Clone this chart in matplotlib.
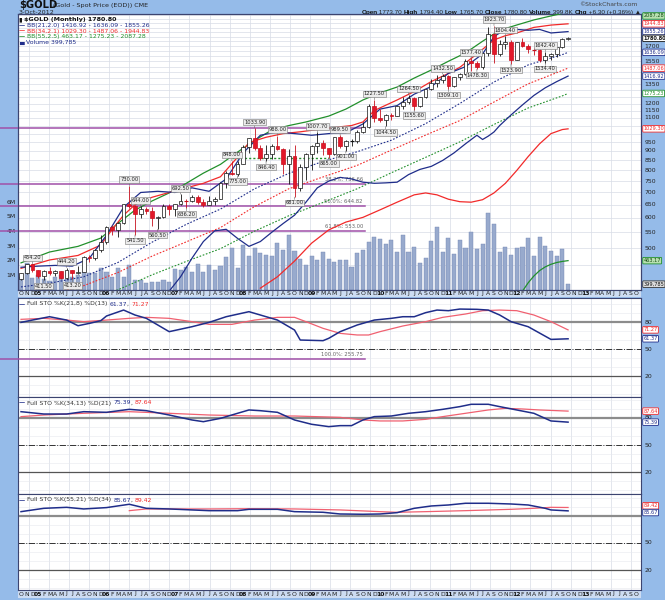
import numpy as np
import matplotlib.pyplot as plt
import matplotlib.transforms as mtransforms
from matplotlib.patches import Rectangle

# ---------------- $GOLD monthly, Oct 2004 .. Oct 2012 ----------------
opens = [415.5, 428.5, 452.5, 437.5, 422.2, 435.7, 428.8, 435.0, 417.0, 437.0,
         429.0, 433.3, 473.0, 470.0, 495.0, 517.0, 568.8, 556.0, 582.0, 654.0,
         643.0, 613.5, 633.0, 624.0, 598.0, 604.0, 646.0, 632.0, 651.0, 665.0,
         663.0, 680.0, 659.0, 650.5, 665.5, 673.0, 743.0, 789.0, 783.0, 834.0,
         923.0, 972.0, 916.0, 863.0, 886.0, 928.0, 913.0, 833.0, 871.0, 718.0,
         815.0, 884.0, 928.0, 942.0, 916.0, 883.0, 979.0, 926.0, 955.0, 956.0,
         1009.0, 1040.0, 1182.0, 1096.0, 1083.0, 1118.0, 1113.0, 1180.0, 1213.0, 1244.0,
         1181.0, 1248.0, 1307.0, 1357.0, 1386.0, 1421.0, 1333.0, 1410.0, 1439.0, 1556.0,
         1536.0, 1500.0, 1628.0, 1826.0, 1620.0, 1724.0, 1746.0, 1566.0, 1740.0, 1697.0,
         1669.0, 1664.0, 1560.0, 1604.0, 1615.0, 1687.0, 1773.7]
highs = [429.0, 453.0, 454.2, 438.0, 438.5, 445.6, 438.0, 435.5, 444.2, 438.2,
         448.6, 475.7, 479.0, 498.0, 541.0, 572.5, 575.5, 585.7, 654.5, 730.0,
         647.0, 644.0, 642.0, 640.0, 607.0, 651.0, 653.0, 652.0, 692.5, 671.0,
         690.0, 690.0, 672.0, 684.0, 682.0, 747.0, 795.0, 848.0, 845.0, 934.0,
         976.0, 1033.9, 934.0, 932.0, 940.0, 988.0, 917.0, 913.0, 933.0, 830.0,
         889.0, 931.0, 1007.7, 963.0, 917.0, 981.0, 989.5, 962.0, 966.0, 1024.0,
         1072.0, 1195.0, 1227.5, 1162.0, 1128.0, 1135.0, 1180.5, 1249.0, 1264.5, 1245.0,
         1250.0, 1310.0, 1388.0, 1424.0, 1432.5, 1424.0, 1411.0, 1447.0, 1569.0, 1577.4,
         1553.0, 1632.0, 1911.0, 1923.7, 1763.0, 1804.4, 1763.0, 1745.0, 1790.0, 1720.0,
         1676.0, 1666.0, 1642.4, 1628.0, 1693.0, 1790.0, 1794.4]
lows = [411.7, 427.8, 431.9, 416.0, 411.5, 424.5, 421.6, 414.5, 413.5, 413.2,
        428.3, 433.0, 460.0, 465.0, 489.0, 513.0, 540.0, 536.0, 578.0, 636.0,
        541.5, 599.0, 614.0, 573.0, 560.5, 600.0, 609.0, 605.5, 648.0, 636.2,
        660.0, 653.0, 640.0, 648.0, 647.0, 672.0, 721.0, 780.0, 775.0, 830.0,
        888.0, 905.0, 853.0, 846.4, 857.0, 907.0, 784.0, 735.0, 681.0, 705.0,
        753.0, 802.0, 890.0, 880.0, 865.0, 877.0, 917.0, 901.0, 930.0, 944.0,
        1001.0, 1033.0, 1075.0, 1074.0, 1044.5, 1088.0, 1110.0, 1163.0, 1195.0, 1155.6,
        1176.0, 1242.0, 1300.0, 1330.0, 1360.0, 1309.1, 1330.0, 1380.0, 1423.0, 1462.0,
        1478.3, 1481.0, 1603.0, 1535.0, 1600.0, 1672.0, 1523.9, 1563.0, 1687.0, 1627.0,
        1614.0, 1540.0, 1534.4, 1566.0, 1588.0, 1680.0, 1765.7]
closes = [428.5, 452.5, 437.5, 422.2, 435.7, 428.8, 435.0, 417.0, 437.0, 429.0,
          433.3, 473.0, 470.0, 495.0, 517.0, 568.8, 556.0, 582.0, 654.0, 643.0,
          613.5, 633.0, 624.0, 598.0, 604.0, 646.0, 632.0, 651.0, 665.0, 663.0,
          680.0, 659.0, 650.5, 665.5, 673.0, 743.0, 789.0, 783.0, 834.0, 923.0,
          972.0, 916.0, 863.0, 886.0, 928.0, 913.0, 833.0, 871.0, 718.0, 815.0,
          884.0, 928.0, 942.0, 916.0, 883.0, 979.0, 926.0, 955.0, 956.0, 1009.0,
          1040.0, 1182.0, 1096.0, 1083.0, 1118.0, 1113.0, 1180.0, 1213.0, 1244.0, 1181.0,
          1248.0, 1307.0, 1357.0, 1386.0, 1421.0, 1333.0, 1410.0, 1439.0, 1556.0, 1536.0,
          1500.0, 1628.0, 1826.0, 1620.0, 1724.0, 1746.0, 1566.0, 1740.0, 1697.0, 1669.0,
          1664.0, 1560.0, 1604.0, 1615.0, 1687.0, 1776.0, 1780.8]
# volume in millions
volume = [0.9, 1.85, 0.8, 1.0, 0.75, 0.6, 0.9, 1.0, 0.75, 0.9,
          1.0, 1.2, 1.15, 1.15, 1.5, 1.2, 0.9, 1.5, 0.9, 1.7,
          0.7, 0.7, 0.5, 0.55, 0.55, 0.7, 0.55, 1.45, 1.4, 1.6,
          1.25, 1.8, 1.25, 1.7, 1.4, 1.65, 2.25, 2.9, 1.5, 3.1,
          2.3, 2.9, 2.5, 2.4, 2.3, 3.2, 2.75, 3.8, 2.7, 2.1,
          1.7, 2.3, 2.05, 2.6, 2.1, 1.94, 2.05, 2.05, 1.6, 2.5,
          2.74, 3.3, 3.65, 3.47, 3.13, 3.42, 2.62, 3.75, 2.62, 2.92,
          1.83, 2.17, 3.38, 4.29, 2.58, 3.58, 2.47, 3.42, 2.85, 3.99,
          2.81, 3.15, 5.25, 4.52, 2.58, 2.97, 2.42, 2.85, 2.92, 3.54,
          2.35, 3.65, 3.01, 2.69, 2.33, 2.83, 0.40]

# Bollinger bands (month index, value)
bb21_up_m = [0, 3, 6, 9, 12, 15, 18, 21, 24, 27, 30, 33, 36, 39, 42, 45, 48, 51, 54, 57,
             60, 63, 66, 69, 72, 75, 78, 81, 83, 85, 87, 89, 91, 93, 96]
bb21_up = [445, 448, 450, 448, 470, 540, 640, 700, 705, 700, 720, 705, 760, 890, 990, 1010,
           1000, 990, 1000, 1005, 1060, 1160, 1185, 1270, 1330, 1440, 1500, 1620, 1800, 1880,
           1880, 1870, 1880, 1840, 1855.26]
bb21_mid_m = [0, 5, 11, 17, 23, 29, 35, 41, 47, 53, 59, 65, 71, 77, 83, 89, 95, 96]
bb21_mid = [395, 404, 420, 458, 518, 577, 633, 716, 786, 845, 896, 961, 1062, 1200, 1367,
            1516, 1614, 1636.09]
bb21_lo_m = [26, 28, 30, 32, 34, 36, 38, 40, 42, 44, 46, 48, 50, 52, 54, 56, 58, 60, 62, 64,
             66, 68, 70, 72, 74, 76, 78, 80, 81, 82, 83, 84, 86, 88, 90, 92, 94, 96]
bb21_lo = [385, 420, 470, 520, 555, 560, 530, 505, 520, 550, 580, 610, 660, 720, 750, 767,
           760, 745, 740, 742, 745, 780, 805, 820, 850, 890, 940, 990, 965, 985, 1010, 1050,
           1120, 1190, 1260, 1320, 1370, 1416.92]
bb34_up_m = [0, 5, 10, 14, 16, 18, 20, 23, 26, 29, 32, 35, 38, 40, 43, 46, 49, 54, 58, 60,
             62, 66, 69, 72, 75, 77, 80, 83, 85, 87, 90, 93, 96]
bb34_up = [442, 465, 478, 509, 560, 610, 650, 680, 700, 720, 740, 770, 867, 947, 978, 1000,
           1011, 1034, 1050, 1073, 1150, 1226, 1290, 1371, 1440, 1494, 1620, 1764, 1810, 1840,
           1903, 1930, 1944.83]
bb34_mid_m = [0, 5, 11, 17, 23, 29, 35, 41, 47, 53, 59, 65, 71, 77, 83, 89, 95, 96]
bb34_mid = [372, 378, 398, 431, 476, 519, 566, 643, 716, 769, 825, 905, 991, 1082, 1211,
            1352, 1466, 1487.06]
bb34_lo_m = [42, 45, 48, 51, 54, 57, 60, 63, 66, 69, 71, 73, 75, 77, 79, 81, 83, 85, 87, 89,
             91, 93, 95, 96]
bb34_lo = [392, 420, 462, 515, 558, 585, 602, 630, 660, 690, 698, 690, 672, 662, 660, 670,
           698, 740, 800, 870, 940, 1000, 1025, 1029.30]
bb55_up_m = [0, 5, 10, 14, 17, 20, 23, 26, 29, 32, 35, 38, 41, 44, 47, 50, 54, 57, 60, 63,
             66, 69, 72, 75, 78, 81, 84, 87, 90, 93, 96]
bb55_up = [457, 488, 505, 531, 580, 629, 665, 698, 740, 787, 830, 894, 960, 1022, 1050, 1073,
           1112, 1160, 1226, 1280, 1326, 1400, 1470, 1550, 1630, 1750, 1870, 1931, 1991, 2040,
           2087.28]
bb55_mid_m = [5, 11, 17, 23, 29, 35, 41, 47, 53, 59, 65, 71, 77, 83, 89, 95, 96]
bb55_mid = [341, 360, 388, 425, 461, 498, 554, 608, 659, 716, 789, 866, 951, 1057, 1168, 1257,
            1275.23]
bb55_lo_m = [88, 89, 90, 91, 92, 93, 94, 95, 96]
bb55_lo = [385, 405, 422, 436, 446, 453, 458, 461, 463.17]

# Fibonacci retracement levels and a support line
fib_pct = ['0.0%', '38.2%', '50.0%', '61.8%', '100.0%']
fib_val = [1033.90, 736.66, 644.82, 553.00, 255.75]
support_val = 865.0

# annotated highs ('h') and lows ('l')
notes = [(2, 'h'), (4, 'l'), (8, 'h'), (9, 'l'), (19, 'h'), (20, 'l'), (21, 'h'), (24, 'l'),
         (28, 'h'), (29, 'l'), (37, 'h'), (38, 'l'), (41, 'h'), (43, 'l'), (45, 'h'), (48, 'l'),
         (52, 'h'), (54, 'l'), (56, 'h'), (57, 'l'), (62, 'h'), (64, 'l'), (68, 'h'), (69, 'l'),
         (74, 'h'), (75, 'l'), (79, 'h'), (80, 'l'), (83, 'h'), (85, 'h'), (86, 'l'), (92, 'h'),
         (92, 'l')]

# Full stochastics panels (month index, value)
k1_m = [0, 2, 5, 8, 10, 12, 14, 15, 18, 20, 22, 26, 30, 33, 36, 40, 42, 45, 48, 49, 53, 54,
        56, 59, 62, 65, 67, 69, 71, 73, 75, 77, 80, 82, 84, 86, 89, 93, 96]
k1 = [79.6, 82.2, 85.9, 82.2, 75.9, 78.5, 81.5, 86.7, 93.3, 87.8, 84.1, 69.3, 74.8, 79.6,
      85.9, 91.5, 87.8, 82.2, 71.1, 60.0, 59.3, 61.9, 69.3, 76.7, 82.2, 84.1, 85.9, 85.9,
      90.4, 93.3, 92.6, 94.4, 94.1, 93.3, 87.8, 80.4, 74.8, 60.7, 61.37]
d1_m = [0, 4, 8, 11, 15, 19, 22, 26, 30, 33, 37, 41, 45, 48, 50, 53, 56, 59, 61, 63, 67, 71,
        74, 78, 81, 84, 87, 90, 93, 96]
d1 = [83.0, 84.1, 82.2, 80.4, 82.2, 84.1, 85.2, 84.1, 80.4, 77.4, 77.4, 82.2, 85.2, 85.2,
      80.4, 73.0, 67.4, 65.6, 65.6, 69.3, 75.6, 80.4, 85.2, 88.9, 92.6, 93.3, 92.6, 87.8,
      80.4, 71.27]
k2_m = [0, 4, 8, 11, 15, 19, 22, 26, 30, 32, 35, 38, 40, 42, 45, 48, 51, 54, 56, 58, 60, 62,
        65, 68, 71, 74, 77, 79, 82, 84, 87, 90, 93, 96]
k2 = [87.0, 84.4, 84.4, 87.0, 86.3, 89.6, 88.1, 83.3, 77.8, 75.9, 79.6, 85.2, 88.9, 88.1,
      86.3, 77.8, 73.0, 70.4, 71.5, 71.5, 77.8, 81.5, 82.2, 85.2, 87.0, 89.6, 92.6, 95.2,
      95.2, 92.6, 88.9, 85.2, 76.7, 75.39]
d2_m = [0, 4, 11, 19, 26, 33, 41, 48, 56, 60, 63, 67, 71, 74, 78, 82, 85, 88, 91, 96]
d2 = [81.5, 83.3, 85.2, 87.0, 85.2, 83.3, 82.2, 82.2, 80.7, 77.8, 76.7, 76.7, 78.5, 81.5,
      85.2, 88.9, 90.7, 90.0, 88.9, 87.64]
k3_m = [0, 4, 8, 11, 15, 19, 22, 26, 30, 33, 38, 40, 45, 48, 53, 56, 60, 63, 66, 69, 72, 75,
        78, 82, 86, 89, 92, 93, 96]
k3 = [84.8, 88.5, 89.6, 87.8, 89.3, 93.0, 88.5, 87.8, 86.7, 85.9, 85.9, 87.4, 87.4, 84.8,
      84.1, 82.2, 81.9, 82.2, 83.7, 88.5, 91.1, 92.2, 94.1, 94.1, 93.3, 92.2, 88.5, 86.7, 85.67]
d3_m = [19, 22, 26, 33, 40, 48, 56, 63, 66, 71, 78, 86, 90, 93, 96]
d3 = [85.9, 87.8, 87.8, 87.8, 88.1, 87.8, 86.7, 84.8, 84.1, 84.8, 85.9, 87.4, 88.5, 89.6, 89.42]

# ---------------- styling ----------------
W, H = 665, 600
BG = '#95bbe9'
STRIP = '#cddcf2'
GRID = '#d8dce6'
FRAME = '#3c4470'
NAVY = '#1f2d8a'
RED = '#f22a2a'
PINK = '#f06070'
GREEN = '#22902c'
VOLC = '#98aacd'
VOLE = '#7487b4'
XMIN, XMAX = -0.53, 108.8
FS = 4.4
TAGFS = 3.6

plt.rcParams['font.family'] = ['DejaVu Sans']

fig = plt.figure(figsize=(W / 100, H / 100), dpi=100, facecolor=BG)


def rect(x0, y0, x1, y1):
    return [x0 / W, 1 - y1 / H, (x1 - x0) / W, (y1 - y0) / H]


def clean(a):
    a.tick_params(which='both', left=False, right=False, bottom=False, top=False,
                  labelleft=False, labelbottom=False)
    for s in a.spines.values():
        s.set_color(FRAME)
        s.set_linewidth(0.8)


vgrid = np.arange(1.4, XMAX, 3.52)
n = len(closes)
idx = np.arange(n)
renderer = fig.canvas.get_renderer()


def seq_text(x_px, y_px, parts, size=FS, right=False, family=None):
    texts, widths = [], []
    for s, col, wt in parts:
        kw = {'family': family} if family else {}
        t = fig.text(0, 1 - y_px / H, s, color=col, fontsize=size, weight=wt,
                     ha='left', va='center', **kw)
        texts.append(t)
        widths.append(t.get_window_extent(renderer).width)
    x = x_px - sum(widths) if right else x_px
    for t, w in zip(texts, widths):
        t.set_x(x / W)
        x += w


def tag(a, val, text, ec, fc='white', tc=None, wt='normal'):
    tr = mtransforms.blended_transform_factory(a.transAxes, a.transData)
    a.text(1.004, val, text, transform=tr, fontsize=TAGFS, color=tc or ec, weight=wt,
           ha='left', va='center', clip_on=False, zorder=30,
           bbox=dict(boxstyle='round,pad=0.15', fc=fc, ec=ec, lw=0.6))


# ---------------- main price panel ----------------
axv = fig.add_axes(rect(18, 14, 641, 290))
axv.set_facecolor('white')
axv.set_xlim(XMIN, XMAX)
axv.set_ylim(0, 18.9)
clean(axv)

ax = fig.add_axes(rect(18, 14, 641, 290))
ax.set_zorder(5)
ax.patch.set_alpha(0)
ax.set_yscale('log')
ax.set_xlim(XMIN, XMAX)
ax.set_ylim(387.7, 2064)
clean(ax)

ptr = mtransforms.blended_transform_factory(axv.transAxes, ax.transData)
for p in np.arange(450, 2051, 50):
    axv.plot([0, 1], [p, p], transform=ptr, color=GRID, lw=0.5, zorder=0)
for g in vgrid:
    axv.axvline(g, color=GRID, lw=0.5, zorder=0)

axv.bar(idx, volume, width=0.72, color=VOLC, edgecolor=VOLE, lw=0.3, zorder=2)
vtr = mtransforms.blended_transform_factory(axv.transAxes, axv.transData)
for k in range(1, 7):
    axv.text(-0.004, k, f'{k}M', transform=vtr, ha='right', va='center', fontsize=FS,
             color='#222', clip_on=False)

# Fibonacci lines (extend into the left margin, 100% runs over the first panel)
for pct, lv in zip(fib_pct, fib_val):
    ax.plot([XMIN - 3.3, 60.3], [lv, lv], color='#a050a8', lw=1.1, clip_on=False, zorder=2)
    if pct != '0.0%':
        ax.text(60.0, lv * 1.012, f'{pct}: {lv:.2f}', ha='right', va='bottom', fontsize=3.8,
                color='#666', clip_on=False, zorder=2)
ax.plot([37, 54], [support_val, support_val], color=GREEN, lw=1.0, ls=(0, (1.5, 1.5)), zorder=3)

# Bollinger bands
ax.plot(bb55_up_m, bb55_up, color=GREEN, lw=0.9, zorder=3)
ax.plot(bb55_mid_m, bb55_mid, color=GREEN, lw=0.8, ls=(0, (1.5, 1.5)), zorder=3)
ax.plot(bb55_lo_m, bb55_lo, color=GREEN, lw=0.9, zorder=3)
ax.plot(bb34_up_m, bb34_up, color=RED, lw=0.9, zorder=3)
ax.plot(bb34_mid_m, bb34_mid, color=RED, lw=0.8, ls=(0, (1.5, 1.5)), zorder=3)
ax.plot(bb34_lo_m, bb34_lo, color=RED, lw=0.9, zorder=3)
ax.plot(bb21_up_m, bb21_up, color=NAVY, lw=0.9, zorder=3)
ax.plot(bb21_mid_m, bb21_mid, color=NAVY, lw=0.8, ls=(0, (1.5, 1.5)), zorder=3)
ax.plot(bb21_lo_m, bb21_lo, color=NAVY, lw=0.9, zorder=3)

# candlesticks
for i in range(n):
    o, h, l, c = opens[i], highs[i], lows[i], closes[i]
    up = c >= o
    col = '#111111' if up else '#c8101e'
    ax.vlines(i, l, h, color=col, lw=0.6, zorder=5)
    b0, b1 = min(o, c), max(o, c)
    if b1 / b0 < 1.004:
        ax.hlines(c, i - 0.35, i + 0.35, color=col, lw=0.8, zorder=6)
    else:
        ax.add_patch(Rectangle((i - 0.33, b0), 0.66, b1 - b0, facecolor='white' if up else '#e2182a',
                               edgecolor=col, lw=0.5, zorder=6))

# high / low annotations
for m, side in notes:
    val = highs[m] if side == 'h' else lows[m]
    off = 2.5 if side == 'h' else -2.5
    ax.annotate(f'{val:.2f}', xy=(m, val), xytext=(0, off), textcoords='offset points',
                ha='center', va='bottom' if side == 'h' else 'top', fontsize=3.7, color='#222',
                bbox=dict(boxstyle='square,pad=0.15', fc='#ececec', ec='#777', lw=0.4),
                arrowprops=dict(arrowstyle='-', color='#666', lw=0.4, shrinkA=0, shrinkB=0),
                zorder=8, annotation_clip=False)

# price axis tags (value, text, edge, face, text colour, weight)
price_tags = [(2040, '2087.28', GREEN, '#b8e0b0', '#124a12', 'normal'),
              (1944.83, '1944.83', RED, 'white', None, 'normal'),
              (1855.26, '1855.26', NAVY, 'white', None, 'normal'),
              (1780.80, '1780.80', '#111111', 'white', None, 'bold'),
              (1636.09, '1636.09', NAVY, 'white', None, 'normal'),
              (1487.06, '1487.06', RED, 'white', None, 'normal'),
              (1416.92, '1416.92', NAVY, 'white', None, 'normal'),
              (1275.23, '1275.23', GREEN, 'white', None, 'normal'),
              (1029.30, '1029.30', RED, 'white', None, 'normal'),
              (463.17, '463.17', GREEN, '#b8e0b0', '#124a12', 'normal')]
tag_px = [ax.transData.transform((0, t[0]))[1] for t in price_tags]

# price axis labels, hidden where a tag covers them
ytr = mtransforms.blended_transform_factory(ax.transAxes, ax.transData)
for p in range(450, 1801, 50):
    py = ax.transData.transform((0, p))[1]
    if min(abs(py - q) for q in tag_px) < 5.5:
        continue
    ax.text(1.006, p, str(p), transform=ytr, ha='left', va='center', fontsize=FS,
            color='#222', clip_on=False, zorder=20)
for val, text, ec, fc, tc, wt in price_tags:
    tag(ax, val, text, ec, fc=fc, tc=tc, wt=wt)
tag(axv, 0.40, '399,785', '#333333', fc='#dddddd', tc='#111111')

# main legend
seq_text(19, 19.5, [('\u25AE ', '#111', 'normal'), ('$GOLD (Monthly) 1780.80', '#111', 'bold')], 4.6)
seq_text(19, 25.3, [('\u2014 ', NAVY, 'bold'), ('BB(21,2.0) 1416.92 - 1636.09 - 1855.26', NAVY, 'normal')])
seq_text(19, 31.0, [('\u2014 ', RED, 'bold'), ('BB(34,2.1) 1029.30 - 1487.06 - 1944.83', RED, 'normal')])
seq_text(19, 36.7, [('\u2014 ', GREEN, 'bold'), ('BB(55,2.5) 463.17 - 1275.23 - 2087.28', GREEN, 'normal')])
seq_text(19, 42.4, [('\u2584 ', NAVY, 'normal'), ('Volume 399,785', NAVY, 'normal')])

# header
seq_text(19, 5, [('$GOLD', '#111', 'bold')], 7.2)
fig.text(53 / W, 1 - 5.5 / H, '(Gold - Spot Price (EOD)) CME', fontsize=4.6, color='#222', va='center')
fig.text(19 / W, 1 - 12 / H, '3-Oct-2012', fontsize=4.6, color='#222', va='center')
fig.text(638 / W, 1 - 5 / H, '\u00a9StockCharts.com', fontsize=4.4, color='#444', va='center', ha='right')
seq_text(641, 12.3, [('Open', '#111', 'bold'), (' 1773.70 ', '#222', 'normal'),
                     ('High', '#111', 'bold'), (' 1794.40 ', '#222', 'normal'),
                     ('Low', '#111', 'bold'), (' 1765.70 ', '#222', 'normal'),
                     ('Close', '#111', 'bold'), (' 1780.80 ', '#222', 'normal'),
                     ('Volume', '#111', 'bold'), (' 399.8K ', '#222', 'normal'),
                     ('Chg', '#111', 'bold'), (' +6.30 (+0.36%) \u25B2', '#222', 'normal')],
         4.6, right=True, family=['Liberation Sans', 'DejaVu Sans'])

# ---------------- date strips ----------------
letters = 'JFMAMJJASOND'
for y0, y1 in ((290, 297), (590, 598)):
    s = fig.add_axes(rect(18, y0, 641, y1))
    s.set_facecolor(STRIP)
    s.set_xlim(XMIN, XMAX)
    s.set_ylim(0, 1)
    clean(s)
    for sp in s.spines.values():
        sp.set_visible(False)
    for i in range(int(XMAX) + 1):
        mon = (9 + i) % 12
        if mon == 0:
            s.text(i, 0.5, f'{(2004 + (9 + i) // 12) % 100:02d}', ha='center', va='center',
                   fontsize=FS, weight='bold', color='#111')
        else:
            s.text(i, 0.5, letters[mon], ha='center', va='center', fontsize=FS, color='#222')

# ---------------- stochastic panels ----------------
panels = [
    ((298, 397), (-3.3, 106.7), k1_m, k1, d1_m, d1, 'Full STO %K(21,8) %D(13) ', '61.37', '71.27'),
    ((397, 494), (-4.4, 103.3), k2_m, k2, d2_m, d2, 'Full STO %K(34,13) %D(21) ', '75.39', '87.64'),
    ((494, 590), (-2.2, 104.4), k3_m, k3, d3_m, d3, 'Full STO %K(55,21) %D(34) ', '85.67', '89.42'),
]
for (y0, y1), ylim, km, kv, dm, dv, title, klab, dlab in panels:
    p = fig.add_axes(rect(18, y0, 641, y1))
    p.set_facecolor('white')
    p.set_xlim(XMIN, XMAX)
    p.set_ylim(*ylim)
    clean(p)
    for g in vgrid:
        p.axvline(g, color=GRID, lw=0.5, zorder=0)
    for lv in range(0, 101, 10):
        p.axhline(lv, color='#e6e8ee', lw=0.4, zorder=0)
    p.axhline(80, color='#8c8c8c', lw=1.6, zorder=1)
    p.axhline(50, color='#333333', lw=0.7, ls='-.', zorder=1)
    p.axhline(20, color='#555555', lw=0.9, zorder=1)
    p.plot(dm, dv, color=PINK, lw=0.9, zorder=3)
    p.plot(km, kv, color=NAVY, lw=1.1, zorder=4)
    ptr2 = mtransforms.blended_transform_factory(p.transAxes, p.transData)
    # push the two value tags apart when they sit close together
    kd = kv[-1] - dv[-1]
    dy = max(0.0, 7.5 - abs(kd)) / 2
    ky = kv[-1] + (dy if kd >= 0 else -dy)
    dyv = dv[-1] - (dy if kd >= 0 else -dy)
    for lv in (80, 50, 20):
        if min(abs(lv - ky), abs(lv - dyv)) < 4:
            continue
        p.text(1.006, lv, str(lv), transform=ptr2, ha='left', va='center', fontsize=FS,
               color='#222', clip_on=False)
    tag(p, dyv, dlab, RED)
    tag(p, ky, klab, NAVY)
    seq_text(19, y0 + 6, [('\u2014 ', NAVY, 'bold'), (title, '#333', 'normal'),
                          (klab, NAVY, 'normal'), (', ', '#333', 'normal'), (dlab, RED, 'normal')])

fig.savefig('out.png', dpi=100, facecolor=BG)
